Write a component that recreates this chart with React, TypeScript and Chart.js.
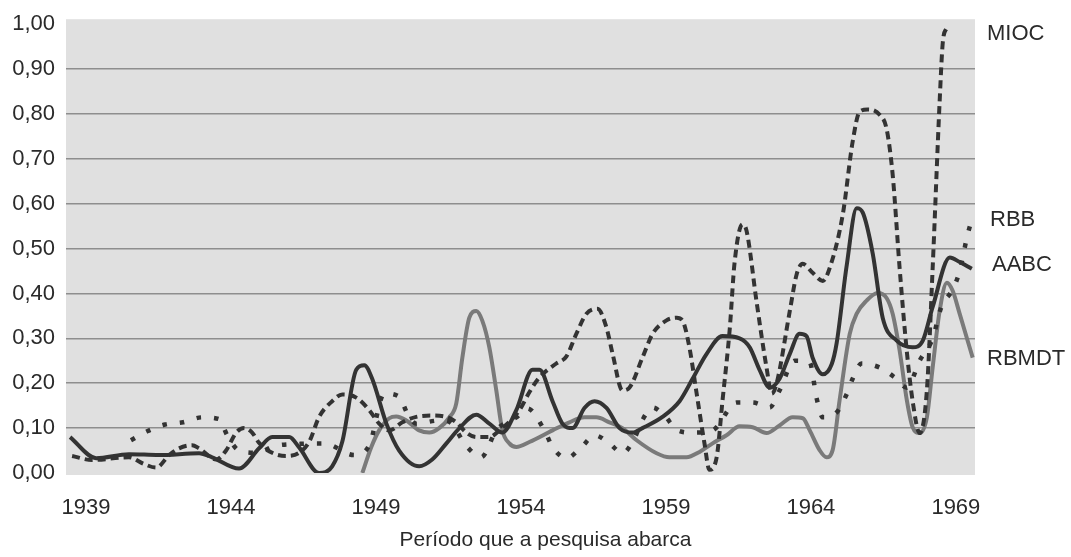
import React, { useEffect, useRef } from 'react';
import { Chart, registerables } from 'chart.js';

Chart.register(...registerables);

// ---------- data ----------
const yearTicks = [1939, 1944, 1949, 1954, 1959, 1964, 1969];
const valueTicks = [0, 0.1, 0.2, 0.3, 0.4, 0.5, 0.6, 0.7, 0.8, 0.9, 1.0];
const seriesNames = ['MIOC', 'RBB', 'AABC', 'RBMDT'];
const axisTitle = 'Período que a pesquisa abarca';

const miocYears = [
  1938.52, 1939.21, 1940.48, 1941.0, 1941.42, 1941.87, 1942.21, 1942.66, 1942.9, 1943.49,
  1943.83, 1944.18, 1944.45, 1944.73, 1944.97, 1945.42, 1945.9, 1946.35, 1946.7, 1947.04,
  1947.49, 1947.84, 1948.32, 1948.77, 1949.11, 1949.46, 1949.91, 1950.39, 1950.94, 1951.43,
  1951.77, 1952.12, 1952.46, 1952.91, 1953.26, 1953.95, 1954.29, 1954.64, 1955.22, 1955.57,
  1955.91, 1956.26, 1956.64, 1956.95, 1957.16, 1957.5, 1957.74, 1958.19, 1958.54, 1959.02,
  1959.37, 1959.57, 1959.81, 1960.06, 1960.33, 1960.5, 1960.75, 1960.95, 1961.2, 1961.37,
  1961.64, 1961.78, 1962.13, 1962.47, 1962.65, 1962.82, 1963.27, 1963.51, 1963.72, 1964.06,
  1964.41, 1964.65, 1965.1, 1965.44, 1965.68, 1965.96, 1966.37, 1966.61, 1966.82, 1967.06,
  1967.31, 1967.51, 1967.75, 1968.0, 1968.2, 1968.44, 1968.55, 1968.69,
];
const miocValues = [
  0.038, 0.029, 0.035, 0.02, 0.012, 0.04, 0.055, 0.062, 0.055, 0.03,
  0.05, 0.09, 0.1, 0.09, 0.067, 0.045, 0.038, 0.045, 0.07, 0.125,
  0.16, 0.175, 0.168, 0.14, 0.11, 0.095, 0.113, 0.125, 0.128, 0.125,
  0.113, 0.09, 0.08, 0.08, 0.095, 0.14, 0.18, 0.213, 0.244, 0.26,
  0.31, 0.355, 0.366, 0.324, 0.266, 0.184, 0.19, 0.257, 0.31, 0.34,
  0.346, 0.34, 0.28, 0.177, 0.066, 0.007, 0.035, 0.16, 0.32, 0.47,
  0.554, 0.54, 0.38, 0.235, 0.177, 0.2, 0.36, 0.443, 0.466, 0.446,
  0.428, 0.457, 0.576, 0.738, 0.805, 0.81, 0.798, 0.767, 0.665, 0.457,
  0.27, 0.16, 0.089, 0.184, 0.457, 0.827, 0.96, 0.993,
];

const rbbYears = [
  1940.55, 1941.11, 1941.73, 1942.35, 1943.0, 1943.59, 1943.87, 1944.28, 1944.9, 1945.5,
  1946.4, 1947.22, 1948.25, 1948.77, 1949.29, 1949.8, 1950.08, 1950.39, 1951.18, 1951.5,
  1952.12, 1952.63, 1953.15, 1953.5, 1953.84, 1954.22, 1954.81, 1955.09, 1955.57, 1956.09,
  1956.54, 1957.05, 1957.5, 1957.92, 1958.19, 1958.54, 1958.95, 1959.4, 1959.92, 1960.61,
  1961.44, 1961.99, 1962.58, 1962.92, 1963.44, 1963.96, 1964.2, 1964.41, 1964.89, 1965.23,
  1965.44, 1965.75, 1966.37, 1966.89, 1967.31, 1967.75, 1968.2, 1968.5, 1968.9, 1969.13,
  1969.4, 1969.55,
];
const rbbValues = [
  0.073, 0.093, 0.108, 0.113, 0.124, 0.12, 0.084, 0.05, 0.045, 0.06,
  0.065, 0.066, 0.04, 0.062, 0.177, 0.17, 0.133, 0.11, 0.117, 0.115,
  0.06, 0.035, 0.095, 0.113, 0.124, 0.144, 0.095, 0.058, 0.033, 0.058,
  0.084, 0.066, 0.044, 0.078, 0.118, 0.146, 0.128, 0.095, 0.09, 0.095,
  0.157, 0.157, 0.146, 0.184, 0.25, 0.246, 0.166, 0.124, 0.135, 0.175,
  0.21, 0.244, 0.235, 0.213, 0.19, 0.25, 0.3, 0.37, 0.41, 0.45,
  0.53, 0.565,
];

const aabcYears = [
  1938.45, 1939.35, 1940.48, 1941.52, 1942.9, 1943.35, 1944.28, 1944.97, 1945.42, 1946.01,
  1946.35, 1947.04, 1947.49, 1947.84, 1948.32, 1948.6, 1948.87, 1949.36, 1949.8, 1950.49,
  1950.94, 1951.43, 1951.88, 1952.46, 1952.91, 1953.36, 1953.84, 1954.4, 1954.64, 1955.09,
  1955.43, 1955.78, 1956.19, 1956.54, 1956.95, 1957.4, 1957.85, 1958.19, 1958.88, 1959.47,
  1959.92, 1960.4, 1960.95, 1961.54, 1961.89, 1962.23, 1962.58, 1962.92, 1963.27, 1963.61,
  1963.85, 1964.06, 1964.41, 1964.72, 1964.89, 1965.23, 1965.58, 1965.79, 1966.13, 1966.48,
  1966.96, 1967.51, 1967.86, 1968.2, 1968.79, 1969.13, 1969.55,
];
const aabcValues = [
  0.08, 0.033, 0.042, 0.04, 0.044, 0.035, 0.01, 0.055, 0.08, 0.08,
  0.057, 0.0, 0.015, 0.07, 0.23, 0.24, 0.21, 0.11, 0.05, 0.015,
  0.03, 0.066, 0.1, 0.13, 0.11, 0.09, 0.14, 0.23, 0.23, 0.16,
  0.11, 0.1, 0.145, 0.16, 0.145, 0.1, 0.09, 0.1, 0.125, 0.16,
  0.21, 0.265, 0.305, 0.3, 0.28, 0.23, 0.19, 0.21, 0.265, 0.31,
  0.305, 0.257, 0.22, 0.243, 0.29, 0.46, 0.59, 0.58, 0.49, 0.345,
  0.295, 0.28, 0.295, 0.37, 0.48, 0.47, 0.455,
];

const rbmdtYears = [
  1948.53, 1948.84, 1949.11, 1949.46, 1949.7, 1950.05, 1950.49, 1950.84, 1951.18, 1951.53,
  1951.77, 1951.98, 1952.22, 1952.46, 1952.67, 1952.91, 1953.15, 1953.36, 1953.6, 1953.84,
  1954.29, 1955.09, 1955.67, 1956.19, 1956.6, 1957.05, 1957.5, 1957.99, 1958.68, 1959.12,
  1959.71, 1960.16, 1960.61, 1961.09, 1961.54, 1961.99, 1962.47, 1962.92, 1963.37, 1963.72,
  1963.96, 1964.3, 1964.54, 1964.75, 1964.99, 1965.34, 1965.58, 1965.92, 1966.3, 1966.61,
  1966.82, 1967.06, 1967.31, 1967.51, 1967.75, 1968.0, 1968.2, 1968.44, 1968.69, 1968.89,
  1969.13, 1969.58,
];
const rbmdtValues = [
  0.0, 0.058, 0.095, 0.122, 0.126, 0.117, 0.095, 0.09, 0.1, 0.124,
  0.155, 0.257, 0.346, 0.361, 0.339, 0.28, 0.184, 0.095, 0.066, 0.058,
  0.069, 0.095, 0.113, 0.124, 0.124, 0.113, 0.1, 0.073, 0.044, 0.035,
  0.035, 0.047, 0.066, 0.084, 0.104, 0.102, 0.089, 0.106, 0.124, 0.122,
  0.095, 0.051, 0.035, 0.051, 0.162, 0.31, 0.355, 0.384, 0.401, 0.39,
  0.355, 0.273, 0.162, 0.102, 0.089, 0.124, 0.235, 0.361, 0.424, 0.406,
  0.355, 0.257,
];

// ---------- styles ----------
const FONT = '"Liberation Sans", Arial, Helvetica, sans-serif';
const TEXT_COLOR = '#2a2a2a';
const DARK = '#333333';
const MID = '#7a7a7a';
const PLOT_BG = '#e0e0e0';
const GRID = '#8e8e8e';
const labelOffsets = [
  { dx: 12, dy: 7 },
  { dx: 15, dy: 1 },
  { dx: 17, dy: -4 },
  { dx: 12, dy: 1 },
];

const toPoints = (xs: number[], ys: number[]) => xs.map((x, i) => ({ x, y: ys[i] }));

export default function App() {
  const ref = useRef<HTMLCanvasElement>(null);

  useEffect(() => {
    document.body.style.margin = '0';
    const canvas = ref.current;
    if (!canvas) return;

    const bgPlugin = {
      id: 'plotBg',
      beforeDraw(chart: any) {
        const { ctx, chartArea: a } = chart;
        ctx.save();
        ctx.fillStyle = PLOT_BG;
        ctx.fillRect(a.left, a.top - 5, a.right - a.left, a.bottom - a.top + 7);
        ctx.restore();
      },
    };

    const labelPlugin = {
      id: 'seriesLabels',
      afterDraw(chart: any) {
        const { ctx, chartArea: a } = chart;
        ctx.save();
        ctx.fillStyle = TEXT_COLOR;
        ctx.font = `22px ${FONT}`;
        ctx.textAlign = 'left';
        ctx.textBaseline = 'middle';
        chart.data.datasets.forEach((ds: any, i: number) => {
          const meta = chart.getDatasetMeta(i);
          const last = meta.data[meta.data.length - 1];
          if (!last) return;
          const off = labelOffsets[i];
          ctx.fillText(ds.label, a.right + off.dx, last.y + off.dy);
        });
        ctx.font = `21px ${FONT}`;
        ctx.textAlign = 'center';
        ctx.fillText(axisTitle, (a.left + a.right) / 2 + 25, 540);
        ctx.restore();
      },
    };

    const chart = new Chart(canvas, {
      type: 'line',
      data: {
        datasets: [
          {
            label: seriesNames[0],
            data: toPoints(miocYears, miocValues),
            borderColor: DARK,
            borderWidth: 4,
            borderDash: [8, 5],
          },
          {
            label: seriesNames[1],
            data: toPoints(rbbYears, rbbValues),
            borderColor: DARK,
            borderWidth: 4.5,
            borderDash: [4.5, 13],
          },
          {
            label: seriesNames[2],
            data: toPoints(aabcYears, aabcValues),
            borderColor: DARK,
            borderWidth: 4,
          },
          {
            label: seriesNames[3],
            data: toPoints(rbmdtYears, rbmdtValues),
            borderColor: MID,
            borderWidth: 4,
          },
        ],
      },
      options: {
        animation: false,
        responsive: false,
        layout: { padding: { left: 0, right: 96, top: 22, bottom: 0 } },
        plugins: { legend: { display: false }, tooltip: { enabled: false } },
        elements: {
          point: { radius: 0 },
          line: { cubicInterpolationMode: 'monotone', borderCapStyle: 'butt', borderJoinStyle: 'round' },
        },
        scales: {
          x: {
            type: 'linear',
            min: 1938.31,
            max: 1969.66,
            afterBuildTicks: (s: any) => {
              s.ticks = yearTicks.map((v) => ({ value: v }));
            },
            afterFit: (s: any) => {
              s.height = 84;
            },
            ticks: {
              autoSkip: false,
              maxRotation: 0,
              padding: 22,
              color: TEXT_COLOR,
              font: { family: FONT, size: 22 },
              callback: (v: any) => String(v),
            },
            grid: { display: false, drawTicks: false },
            border: { display: false },
          },
          y: {
            min: 0,
            max: 1,
            afterBuildTicks: (s: any) => {
              s.ticks = valueTicks.map((v) => ({ value: v }));
            },
            afterFit: (s: any) => {
              s.width = 66;
            },
            ticks: {
              padding: 11,
              color: TEXT_COLOR,
              font: { family: FONT, size: 22 },
              callback: (v: any) => Number(v).toFixed(2).replace('.', ','),
            },
            grid: {
              drawTicks: false,
              lineWidth: 1.5,
              color: (ctx: any) => {
                const v = ctx.tick ? ctx.tick.value : 0;
                return v > 0.001 && v < 0.999 ? GRID : 'rgba(0,0,0,0)';
              },
            },
            border: { display: false },
          },
        },
      },
      plugins: [bgPlugin, labelPlugin],
    } as any);

    return () => chart.destroy();
  }, []);

  return (
    <div style={{ position: 'absolute', left: 0, top: 0, width: 1071, height: 557 }}>
      <canvas ref={ref} width={1071} height={557} style={{ display: 'block' }} />
    </div>
  );
}
